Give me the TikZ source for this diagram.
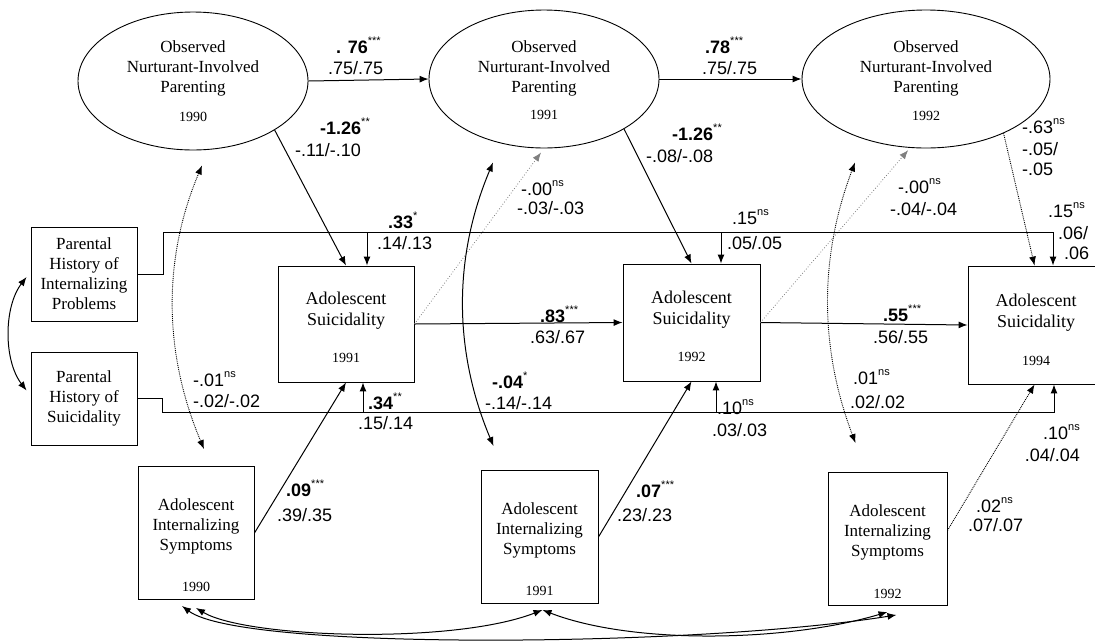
\documentclass[tikz,border=0pt]{standalone}
\usepackage{fontspec}
\setmainfont{Liberation Serif}
\setsansfont{Liberation Sans}
\usetikzlibrary{shapes.geometric,arrows.meta,calc}
\newcommand\sg[1]{\raisebox{0.95ex}{\fontsize{11}{11}\selectfont #1}}
\tikzset{
  box/.style={draw, line width=0.9pt, inner sep=0pt},
  ell/.style={draw, ellipse, line width=0.9pt, inner sep=0pt},
  ttxt/.style={font=\fontsize{17}{20}\selectfont, align=center, inner sep=0pt},
  astxt/.style={font=\fontsize{18}{21}\selectfont, align=center, inner sep=0pt},
  yr/.style={font=\fontsize{14}{14}\selectfont, inner sep=0pt},
  num/.style={font=\sffamily\fontsize{18}{18}\selectfont, anchor=west, inner sep=0pt, text height=12.9pt, text depth=0pt},
  arr/.style={line width=1pt, ->},
  cor/.style={line width=1pt, <->},
  dcor/.style={line width=0.9pt, densely dotted, <->},
  dotp/.style={line width=0.9pt, densely dotted, ->},
  faint/.style={line width=0.8pt, dotted, black!50, ->},
}
\begin{document}
\begin{tikzpicture}[x=1pt,y=-1pt, >={Latex[length=9pt,width=7pt]}]
\useasboundingbox (0,0) rectangle (1095,641);
\clip (0,0) rectangle (1095,641);

% ellipses
\node[ell, minimum width=230pt, minimum height=138pt] (E1) at (193,81) {};
\node[ell, minimum width=230pt, minimum height=138pt] (E2) at (544,79) {};
\node[ell, minimum width=248pt, minimum height=138pt] (E3) at (926,79) {};
\node[ttxt] (E1t) at ($(E1.center)+(0,-13)$) {Observed\\Nurturant-Involved\\Parenting};
\node[yr] (E1y) at ($(E1.center)+(0,36)$) {1990};
\node[ttxt] (E2t) at ($(E2.center)+(0,-11)$) {Observed\\Nurturant-Involved\\Parenting};
\node[yr] (E2y) at ($(E2.center)+(0,36)$) {1991};
\node[ttxt] (E3t) at ($(E3.center)+(0,-11)$) {Observed\\Nurturant-Involved\\Parenting};
\node[yr] (E3y) at ($(E3.center)+(0,37)$) {1992};

% parental history boxes
\node[box, ttxt, minimum width=106pt, minimum height=94pt] (PH1) at (84,274) {Parental\\History of\\Internalizing\\Problems};
\node[box, ttxt, minimum width=106pt, minimum height=93pt] (PH2) at (84,398.5) {Parental\\History of\\Suicidality};

% adolescent suicidality boxes
\node[box, minimum width=136pt, minimum height=116pt] (AS1) at (346,324) {};
\node[box, minimum width=137pt, minimum height=117pt] (AS2) at (691.5,322.5) {};
\node[box, minimum width=136pt, minimum height=118pt] (AS3) at (1036,325) {};
\node[astxt] (AS1t) at ($(AS1.center)+(0,-13)$) {Adolescent\\Suicidality};
\node[yr] (AS1y) at ($(AS1.center)+(0,34)$) {1991};
\node[astxt] (AS2t) at ($(AS2.center)+(0,-13)$) {Adolescent\\Suicidality};
\node[yr] (AS2y) at ($(AS2.center)+(0,34)$) {1992};
\node[astxt] (AS3t) at ($(AS3.center)+(0,-12)$) {Adolescent\\Suicidality};
\node[yr] (AS3y) at ($(AS3.center)+(0,36)$) {1994};

% adolescent internalizing boxes
\node[box, minimum width=116pt, minimum height=133pt] (AIS1) at (196,533) {};
\node[box, minimum width=117pt, minimum height=133pt] (AIS2) at (539.5,537) {};
\node[box, minimum width=119pt, minimum height=133pt] (AIS3) at (887.5,539) {};
\node[ttxt] (AIS1t) at ($(AIS1.center)+(0,-7)$) {Adolescent\\Internalizing\\Symptoms};
\node[yr] (AIS1y) at ($(AIS1.center)+(0,54)$) {1990};
\node[ttxt] (AIS2t) at ($(AIS2.center)+(0,-7)$) {Adolescent\\Internalizing\\Symptoms};
\node[yr] (AIS2y) at ($(AIS2.center)+(0,54)$) {1991};
\node[ttxt] (AIS3t) at ($(AIS3.center)+(0,-7)$) {Adolescent\\Internalizing\\Symptoms};
\node[yr] (AIS3y) at ($(AIS3.center)+(0,55)$) {1992};

% helper coordinates
\coordinate (AS3a) at ($(AS3.north west)+(67,0)$);
\coordinate (AS3b) at ($(AS3.south west)+(67,0)$);
\coordinate (T1) at (367,232);
\coordinate (T2) at (721,232);
\coordinate (T3) at (1053,232);
\coordinate (B1) at (363,412);
\coordinate (B2) at (716,412);
\coordinate (B3) at (1054,412);
\coordinate (c1t) at ($(E1.south)+(9,15)$);
\coordinate (c1b) at ($(AIS1.north)+(8,-17)$);
\coordinate (c2t) at ($(E2.south)+(-51,14)$);
\coordinate (c2b) at ($(AIS2.north)+(-46,-24)$);
\coordinate (c3t) at ($(E3.south)+(-71,14)$);
\coordinate (c3b) at ($(AIS3.north)+(-32,-29)$);
\coordinate (a1) at ($(AIS1.south)+(0,8)$);
\coordinate (cL) at ($(AIS1.south)+(-14,6)$);
\coordinate (a2) at ($(AIS2.south)+(3,6)$);
\coordinate (bR) at ($(AIS3.south)+(0,6)$);
\coordinate (cR) at ($(AIS3.south)+(9,9)$);
\coordinate (p1) at ($(PH1.west)+(-4,3)$);
\coordinate (p2) at ($(PH2.west)+(-4,-8)$);

% stability paths
\draw[arr] (E1.east) -- (E2.west);
\draw[arr] (E2.east) -- (E3.west);
\draw[arr] (AS1.east) -- (AS2.west);
\draw[arr] (AS2.east) -- (AS3.west);

% parenting -> suicidality
\draw[arr] (E1.329) -- (AS1.north);
\draw[arr] (E2.328) -- (AS2.north);
\draw[dotp] (E3.325) -- (AS3a);

% suicidality -> parenting (faint)
\draw[faint, shorten >=5pt] (AS1.east) -- (E2.south);
\draw[faint, shorten >=3pt] (AS2.east) -- (E3.257);

% internalizing -> suicidality
\draw[arr] (AIS1.east) -- (AS1.south);
\draw[arr] (AIS2.east) -- (AS2.south);
\draw[dotp] (AIS3.8) -- (AS3b);

% parental history paths
\draw[arr] (PH1.east) -- ++(26,0) |- (T3) -- (T3 |- AS3.north);
\draw[arr] (T1) -- (T1 |- AS1.north);
\draw[arr] (T2) -- (T2 |- AS2.north);
\draw[arr] (PH2.east) -- ++(25,0) |- (B3) -- (B3 |- AS3.south);
\draw[arr] (B1) -- (B1 |- AS1.south);
\draw[arr] (B2) -- (B2 |- AS2.south);

% correlations
\draw[cor] (p1) .. controls +(-23,30) and +(-23,-30) .. (p2);
\draw[dcor] (c1t) .. controls +(-40,95) and +(-40,-95) .. (c1b);
\draw[cor] (c2t) .. controls +(-40,95) and +(-40,-95) .. (c2b);
\draw[dcor] (c3t) .. controls +(-36,95) and +(-36,-95) .. (c3b);
\draw[cor] (a1) .. controls +(50,30) and +(-90,35) .. (a2);
\draw[cor] (a2) .. controls +(90,35) and +(-100,30) .. (bR);
\draw[cor] (cL) .. controls +(60,45) and +(-200,32) .. (cR);

% labels
\node[num] (n1) at (336,47) {\textbf{. 76}\sg{***}};
\node[num] (n2) at (328,68) {.75/.75};
\node[num] (n3) at (705,47) {\textbf{.78}\sg{***}};
\node[num] (n4) at (702,68) {.75/.75};
\node[num] (n5) at (320,128) {\textbf{-1.26}\sg{**}};
\node[num] (n6) at (295,150) {-.11/-.10};
\node[num] (n7) at (672,134) {\textbf{-1.26}\sg{**}};
\node[num] (n8) at (646,156) {-.08/-.08};
\node[num] (n9) at (1022,127) {-.63\sg{ns}};
\node[num] (n10) at (1022,149) {-.05/};
\node[num] (n11) at (1022,169) {-.05};
\node[num] (n12) at (521,189) {-.00\sg{ns}};
\node[num] (n13) at (517,208) {-.03/-.03};
\node[num] (n14) at (898,187) {-.00\sg{ns}};
\node[num] (n15) at (890,209) {-.04/-.04};
\node[num] (n16) at (388,222) {\textbf{.33}\sg{*}};
\node[num] (n17) at (377,243) {.14/.13};
\node[num] (n18) at (732,218) {.15\sg{ns}};
\node[num] (n19) at (727,243) {.05/.05};
\node[num] (n20) at (1048,211) {.15\sg{ns}};
\node[num] (n21) at (1058,233) {.06/};
\node[num] (n22) at (1064,253) {.06};
\node[num] (n23) at (540,316) {\textbf{.83}\sg{***}};
\node[num] (n24) at (530,337) {.63/.67};
\node[num] (n25) at (883,315) {\textbf{.55}\sg{***}};
\node[num] (n26) at (873,337) {.56/.55};
\node[num] (n27) at (193,380) {-.01\sg{ns}};
\node[num] (n28) at (193,401) {-.02/-.02};
\node[num] (n29) at (368,403) {\textbf{.34}\sg{**}};
\node[num] (n30) at (358,423) {.15/.14};
\node[num] (n31) at (492,382) {\textbf{-.04}\sg{*}};
\node[num] (n32) at (485,403) {-.14/-.14};
\node[num] (n33) at (717,408) {.10\sg{ns}};
\node[num] (n34) at (712,430) {.03/.03};
\node[num] (n35) at (853,378) {.01\sg{ns}};
\node[num] (n36) at (850,402) {.02/.02};
\node[num, anchor=east] (n37) at (1080,433) {.10\sg{ns}};
\node[num, anchor=east] (n38) at (1080,455) {.04/.04};
\node[num] (n39) at (286,490) {\textbf{.09}\sg{***}};
\node[num] (n40) at (277,515) {.39/.35};
\node[num] (n41) at (636,491) {\textbf{.07}\sg{***}};
\node[num] (n42) at (617,515) {.23/.23};
\node[num] (n43) at (976,506) {.02\sg{ns}};
\node[num] (n44) at (968,525) {.07/.07};
\end{tikzpicture}
\end{document}
